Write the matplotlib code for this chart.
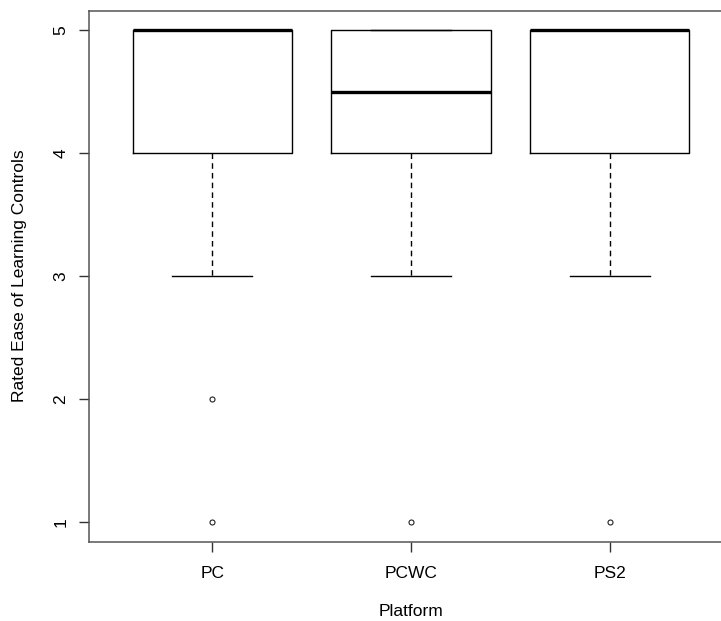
import matplotlib
matplotlib.use("Agg")
import matplotlib.pyplot as plt

# box statistics per platform
platforms = ["PC", "PCWC", "PS2"]
q1 = [4, 4, 4]
medians = [5, 4.5, 5]
q3 = [5, 5, 5]
whisk_lo = [3, 3, 3]
whisk_hi = [5, 5, 5]
outliers = [[2, 1], [1], [1]]

plt.rcParams['font.family'] = ['Liberation Sans', 'DejaVu Sans']

fig = plt.figure(figsize=(7.21, 6.21), dpi=100)
ax = fig.add_axes([89 / 721, 79.5 / 621, 644 / 721, 531 / 621])

stats = []
for i, name in enumerate(platforms):
    stats.append(dict(label=name, q1=q1[i], med=medians[i], q3=q3[i],
                      whislo=whisk_lo[i], whishi=whisk_hi[i], fliers=outliers[i]))

ax.bxp(stats, positions=[1, 2, 3], widths=0.8, patch_artist=False,
       boxprops=dict(color='black', linewidth=1.0),
       medianprops=dict(color='black', linewidth=2.4, solid_capstyle='butt'),
       whiskerprops=dict(color='black', linewidth=1.0, linestyle=(0, (4, 3))),
       capprops=dict(color='black', linewidth=1.0),
       capwidths=0.4,
       flierprops=dict(marker='o', markersize=3.6, markerfacecolor='white',
                       markeredgecolor='#222222', markeredgewidth=0.8))

ax.set_xlim(0.38, 3.62)
ax.set_ylim(0.84, 5.16)
ax.set_yticks([1, 2, 3, 4, 5])
ax.set_yticklabels(['1', '2', '3', '4', '5'], rotation=90, va='center')
ax.set_xticks([1, 2, 3])
ax.set_xticklabels(platforms)
ax.tick_params(labelsize=12.5, length=7, width=1.0, color='#333333')
ax.tick_params(axis='x', pad=11)
ax.tick_params(axis='y', pad=8)

for s in ax.spines.values():
    s.set_color('#555555')
    s.set_linewidth(1.1)

ax.set_xlabel('Platform', fontsize=12.5, labelpad=16)
ax.set_ylabel('Rated Ease of Learning Controls', fontsize=12.5, labelpad=19)

fig.savefig('out.png', dpi=100)
